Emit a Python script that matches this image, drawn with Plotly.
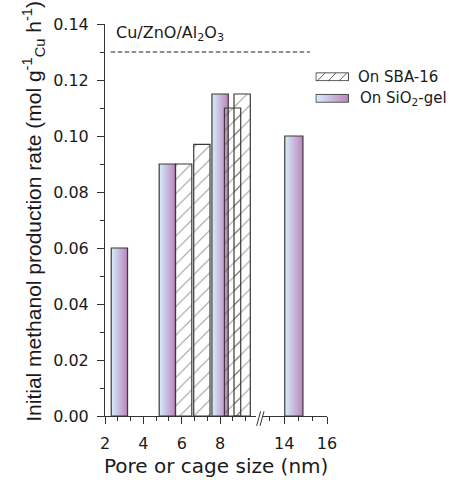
import base64
import plotly.graph_objects as go

# ---------------- data ----------------
sio2_label = "On SiO<sub>2</sub>-gel"
sio2_x = [2.75, 5.25, 8.0, 14.45]          # pore size (nm)
sio2_y = [0.060, 0.090, 0.115, 0.100]      # mol gCu-1 h-1

sba_label = "On SBA-16"
sba_x = [6.1, 7.05, 8.65, 9.15]
sba_y = [0.090, 0.097, 0.110, 0.115]

bar_width = 0.85

ref_label = "Cu/ZnO/Al<sub>2</sub>O<sub>3</sub>"
ref_value = 0.13
ref_x_span = [2.3, 15.2]

y_ticks = [0.00, 0.02, 0.04, 0.06, 0.08, 0.10, 0.12, 0.14]
x_ticks_left = [2, 4, 6, 8]
x_ticks_right = [14, 16]
x_minor_left = [2.667, 3.333, 4.667, 5.333, 6.667, 7.333, 8.667, 9.333]
x_minor_right = [13.333, 14.667, 15.333]

x_title = "Pore or cage size (nm)"
y_title = "Initial methanol production rate (mol g<sup>-1</sup><sub>Cu</sub> h<sup>-1</sup>)"

# ---------------- layout constants ----------------
left_range = [2, 9.87]
right_range = [13.0, 16]
left_dom = [0.0, 0.680]
right_dom = [0.711, 1.0]
break_at = 11.5

W, H = 449, 480
ML, MR, MT, MB = 104.5, 121.7, 24.3, 64.3
AXC = "#333333"
TXT = "#1a1a1a"
FONT = "DejaVu Sans"

grad_scale = [[0.0, "#d4f0f7"], [0.5, "#c9b8de"], [1.0, "#bd84bb"]]
outline = dict(color="#3a3a3a", width=1.2)


def axis_of(x):
    return "x" if x < break_at else "x2"


def to_paper(x):
    if x < break_at:
        r, d = left_range, left_dom
    else:
        r, d = right_range, right_dom
    return d[0] + (x - r[0]) / (r[1] - r[0]) * (d[1] - d[0])


def bar_poly(xc, v):
    x0, x1 = xc - bar_width / 2, xc + bar_width / 2
    return [x0, x0, x1, x1, x0], [0, v, v, 0, 0]


fig = go.Figure()

for xc, v in zip(sio2_x, sio2_y):
    xs, ys = bar_poly(xc, v)
    fig.add_trace(go.Scatter(
        x=xs, y=ys, xaxis=axis_of(xc), yaxis="y", mode="lines",
        fill="toself",
        fillgradient=dict(type="horizontal", colorscale=grad_scale),
        line=outline, hoverinfo="skip", showlegend=False, name=sio2_label))

for xc, v in zip(sba_x, sba_y):
    xs, ys = bar_poly(xc, v)
    fig.add_trace(go.Scatter(
        x=xs, y=ys, xaxis=axis_of(xc), yaxis="y", mode="lines",
        fill="toself", fillcolor="rgba(0,0,0,0)",
        fillpattern=dict(shape="/", fgcolor="#333333", bgcolor="rgba(0,0,0,0)",
                         size=10, solidity=0.1),
        line=outline, hoverinfo="skip", showlegend=False, name=sba_label))

xaxis_common = dict(
    showline=True, linecolor=AXC, linewidth=1, showgrid=False, zeroline=False,
    ticks="outside", ticklen=7, tickcolor=AXC, tickwidth=1,
    tickfont=dict(family=FONT, size=16, color=TXT), ticklabelstandoff=6,
    fixedrange=True,
)

fig.update_layout(
    width=W, height=H,
    margin=dict(l=ML, r=MR, t=MT, b=MB, pad=0),
    paper_bgcolor="white", plot_bgcolor="white",
    showlegend=False,
    font=dict(family=FONT, color=TXT, size=16),
    xaxis=dict(domain=left_dom, range=left_range, anchor="y",
               tickmode="array", tickvals=x_ticks_left,
               ticktext=[str(t) for t in x_ticks_left],
               minor=dict(tickmode="array", tickvals=x_minor_left, ticks="outside",
                          ticklen=4, tickcolor=AXC, showgrid=False),
               **xaxis_common),
    xaxis2=dict(domain=right_dom, range=right_range, anchor="y",
                tickmode="array", tickvals=x_ticks_right,
                ticktext=[str(t) for t in x_ticks_right],
                minor=dict(tickmode="array", tickvals=x_minor_right, ticks="outside",
                           ticklen=4, tickcolor=AXC, showgrid=False),
                **xaxis_common),
    yaxis=dict(domain=[0, 1], range=[0, 0.14], anchor="x",
               showline=True, linecolor=AXC, linewidth=1, showgrid=False,
               zeroline=False, ticks="outside", ticklen=7, tickcolor=AXC,
               tickmode="array", tickvals=y_ticks,
               ticktext=[f"{t:.2f}" for t in y_ticks],
               tickfont=dict(family=FONT, size=16, color=TXT),
               ticklabelstandoff=5,
               minor=dict(dtick=0.01, tick0=0, ticks="outside", ticklen=4,
                          tickcolor=AXC, showgrid=False),
               fixedrange=True),
)

pw = W - ML - MR
ph = H - MT - MB


def px_to_paper(px, py):
    return (px - ML) / pw, (H - MB - py) / ph


# reference line (dashed) spanning both axis segments
fig.add_shape(type="line", xref="paper", yref="y",
              x0=to_paper(ref_x_span[0]), x1=to_paper(ref_x_span[1]),
              y0=ref_value, y1=ref_value,
              line=dict(color="#222222", width=1.1, dash="4.5px,2.5px"))
fig.add_annotation(x=ref_x_span[0] + 0.16, y=ref_value + 0.0067, xref="x", yref="y",
                   text=ref_label, showarrow=False, xanchor="left", yanchor="middle",
                   font=dict(family=FONT, size=16, color=TXT))

# axis break marks
for dx in (0.0, 3.4):
    x0, y0 = px_to_paper(256.7 + dx, 425.5)
    x1, y1 = px_to_paper(260.7 + dx, 411.0)
    fig.add_shape(type="line", xref="paper", yref="paper", x0=x0, y0=y0, x1=x1, y1=y1,
                  line=dict(color=AXC, width=1))

# axis titles
tx, ty = px_to_paper(0, 466)
fig.add_annotation(x=0.5, y=ty, xref="paper", yref="paper", text=x_title,
                   showarrow=False, xanchor="center", yanchor="middle",
                   font=dict(family=FONT, size=20, color=TXT))
tx, ty = px_to_paper(33, 211)
fig.add_annotation(x=tx, y=ty, xref="paper", yref="paper", text=y_title,
                   textangle=-90, showarrow=False, xanchor="center", yanchor="middle",
                   font=dict(family="Liberation Sans", size=21, color=TXT))

# ---------------- legend (manual) ----------------
hatch_svg = (
    "<svg xmlns='http://www.w3.org/2000/svg' width='34' height='9' viewBox='0 0 34 9' "
    "preserveAspectRatio='none'>"
    "<rect x='0.5' y='0.5' width='33' height='8' fill='white' stroke='#333' stroke-width='1'/>"
    "<path d='M2,8.5 L10,0.5 M13,8.5 L21,0.5 M24,8.5 L32,0.5' stroke='#333' stroke-width='0.8'/>"
    "</svg>"
)
grad_svg = (
    "<svg xmlns='http://www.w3.org/2000/svg' width='34' height='9' viewBox='0 0 34 9' "
    "preserveAspectRatio='none'>"
    "<defs><linearGradient id='g' x1='0' x2='1' y1='0' y2='0'>"
    + "".join(f"<stop offset='{o}' stop-color='{c}'/>" for o, c in grad_scale)
    + "</linearGradient></defs>"
    "<rect x='0.5' y='0.5' width='33' height='8' fill='url(#g)' stroke='#3a3a3a' stroke-width='1'/>"
    "</svg>"
)


def svg_uri(s):
    return "data:image/svg+xml;base64," + base64.b64encode(s.encode()).decode()


legend_rows = [(sba_label, hatch_svg, 72.5, 356), (sio2_label, grad_svg, 94.0, 358.5)]
for label, svg, top_py, text_px in legend_rows:
    x0, y0 = px_to_paper(315.7, top_py)
    fig.add_layout_image(dict(source=svg_uri(svg), xref="paper", yref="paper",
                              x=x0, y=y0, sizex=33.6 / pw, sizey=9 / ph,
                              xanchor="left", yanchor="top", sizing="stretch",
                              layer="above"))
    lx, ly = px_to_paper(text_px, top_py + 4.5)
    fig.add_annotation(x=lx, y=ly, xref="paper", yref="paper", text=label,
                       showarrow=False, xanchor="left", yanchor="middle",
                       font=dict(family=FONT, size=15, color=TXT))

fig.write_html("out.html")
